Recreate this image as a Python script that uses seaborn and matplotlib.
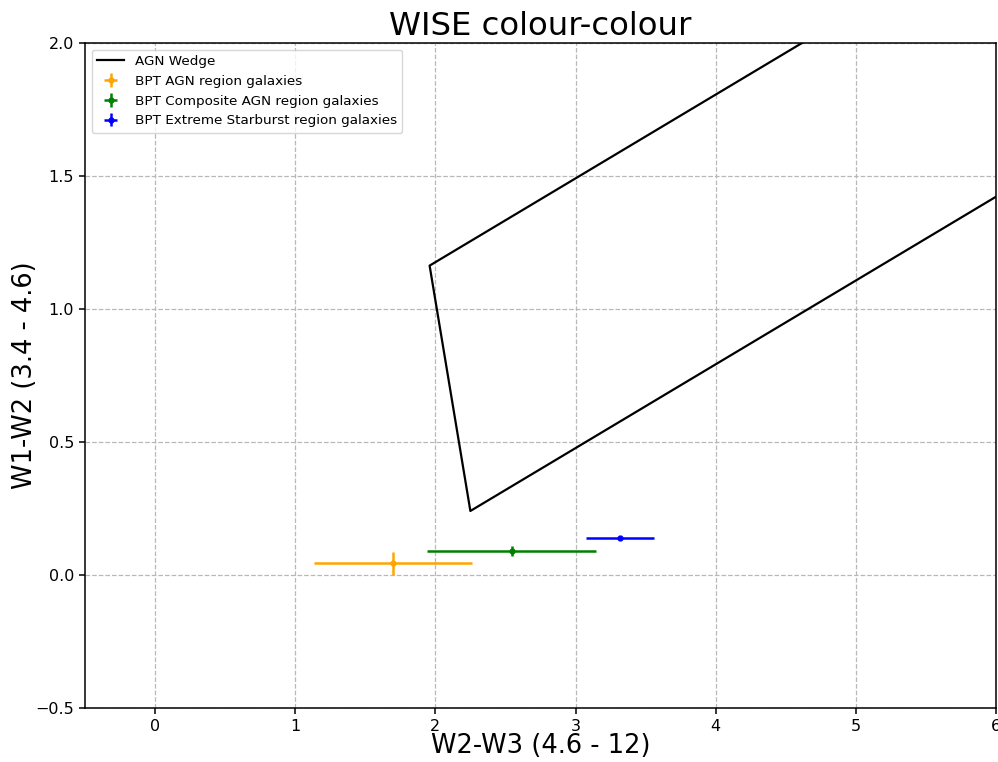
import matplotlib
matplotlib.use("Agg")
import matplotlib.pyplot as plt
import seaborn as sns
import pandas as pd

# AGN wedge outline (W2-W3, W1-W2), drawn as an open polyline
wedge_x = [7.0, 1.9587, 2.2495, 7.0]
wedge_y = [2.751, 1.163, 0.2406, 1.737]

# BPT-classified galaxy groups: mean colours and spreads
groups = ["BPT AGN region galaxies",
          "BPT Composite AGN region galaxies",
          "BPT Extreme Starburst region galaxies"]
colors = ["orange", "green", "blue"]
w2w3 = [1.698, 2.543, 3.314]
w2w3_err = [0.565, 0.600, 0.243]
w1w2 = [0.044, 0.090, 0.138]
w1w2_err = [0.044, 0.019, 0.004]

fig = plt.figure(figsize=(9.98, 7.62), dpi=100)
ax = fig.add_axes([0.0852, 0.0709, 0.9128, 0.8727])

wedge = pd.DataFrame({"x": wedge_x, "y": wedge_y})
sns.lineplot(data=wedge, x="x", y="y", sort=False, estimator=None,
             color="black", linewidth=1.6, label="AGN Wedge", ax=ax)

for name, c, x, xe, y, ye in zip(groups, colors, w2w3, w2w3_err, w1w2, w1w2_err):
    ax.errorbar(x, y, xerr=xe, yerr=ye, fmt="o", color=c,
                markersize=3.5, elinewidth=1.8, label=name)

ax.set_xlim(-0.5, 6)
ax.set_ylim(-0.5, 2.0)
ax.set_xticks([0, 1, 2, 3, 4, 5, 6])
ax.set_yticks([-0.5, 0.0, 0.5, 1.0, 1.5, 2.0])
ax.grid(True, linestyle="--", color="#b8b8b8", linewidth=0.9)
ax.set_axisbelow(True)

ax.set_title("WISE colour-colour", fontsize=23.3)
ax.set_xlabel("W2-W3 (4.6 - 12)", fontsize=18.5, labelpad=-0.8)
ax.set_ylabel("W1-W2 (3.4 - 4.6)", fontsize=18.5, labelpad=-2)
ax.tick_params(labelsize=11.5, width=1.1, length=4.5)
for s in ax.spines.values():
    s.set_linewidth(1.1)
ax.legend(loc="upper left", fontsize=9.7)

fig.savefig("out.png", dpi=100)
